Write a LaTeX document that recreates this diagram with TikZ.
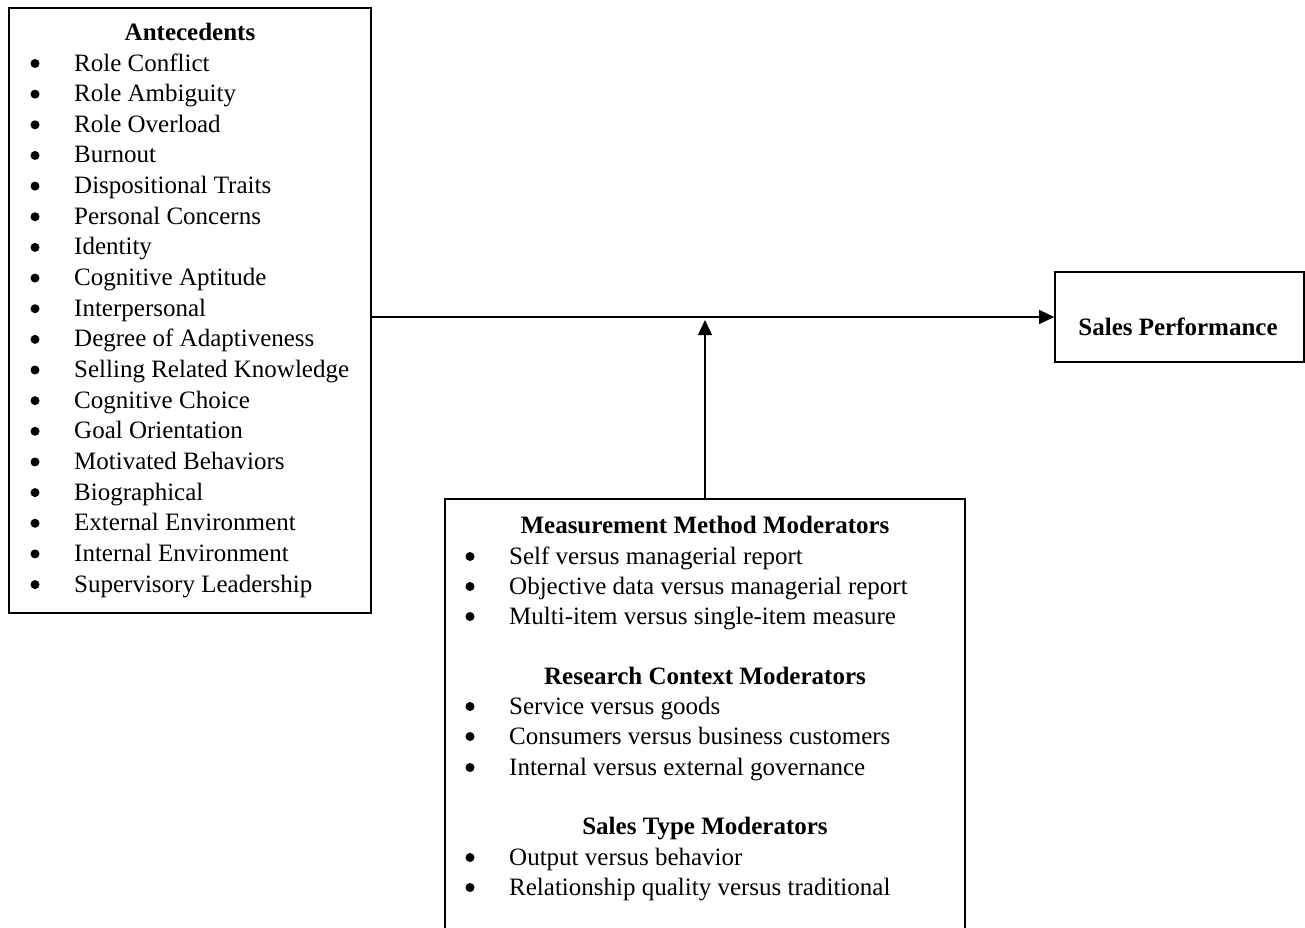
\documentclass[tikz,border=0pt]{standalone}
\usepackage{fontspec}
\setmainfont{Liberation Serif}
\usetikzlibrary{arrows.meta}
\tikzset{
  box/.style={draw, line width=1.6pt, inner sep=0pt},
  txt/.style={inner sep=0pt, anchor=base west, font=\fontsize{25}{30}\selectfont},
  ttl/.style={inner sep=0pt, anchor=base, font=\fontsize{25}{30}\selectfont\bfseries},
  bul/.style={circle, fill, inner sep=0pt, minimum size=9pt},
  conn/.style={line width=1.3pt, -{Triangle[length=15pt,width=14pt]}}
}
\begin{document}
\begin{tikzpicture}[x=1pt,y=-1pt]
\useasboundingbox (0,0) rectangle (1305,927);
\clip (0,0) rectangle (1305,927);
% boxes
\node[box, minimum width=362pt, minimum height=605pt] (ante) at (190,310.5) {};
\node[box, minimum width=249pt, minimum height=90pt] (sales) at (1179.5,317) {};
\node[box, minimum width=520pt, minimum height=470pt] (mod) at (705,734) {};
% antecedents
\node[ttl] (antet) at (190,40) {Antecedents};
\foreach \t [count=\i from 0] in {Role Conflict, Role Ambiguity, Role Overload, Burnout, Dispositional Traits, Personal Concerns, Identity, Cognitive Aptitude, Interpersonal, Degree of Adaptiveness, Selling Related Knowledge, Cognitive Choice, Goal Orientation, Motivated Behaviors, Biographical, External Environment, Internal Environment, Supervisory Leadership}{
  \node[bul] (ab\i) at (35,{63.5+30.65*\i}) {};
  \node[txt] (at\i) at (74,{71+30.65*\i}) {\t};
}
% sales performance
\node[ttl] (salest) at (1178,335) {Sales Performance};
% moderators
\node[ttl] (m1) at (705,533) {Measurement Method Moderators};
\foreach \t/\y [count=\i] in {Self versus managerial report/564, Objective data versus managerial report/594, Multi-item versus single-item measure/624,
  Service versus goods/714, Consumers versus business customers/744, Internal versus external governance/775,
  Output versus behavior/865, Relationship quality versus traditional/895}{
  \node[bul] (mb\i) at (470,\y-7.5) {};
  \node[txt] (mt\i) at (509,\y) {\t};
}
\node[ttl] (m2) at (705,684) {Research Context Moderators};
\node[ttl] (m3) at (705,834) {Sales Type Moderators};
% connectors
\coordinate (tip) at (705,320);
\draw[conn] (ante.east |- sales.west) -- (sales.west);
\draw[conn] (mod.north) -- (tip);
\end{tikzpicture}
\end{document}
